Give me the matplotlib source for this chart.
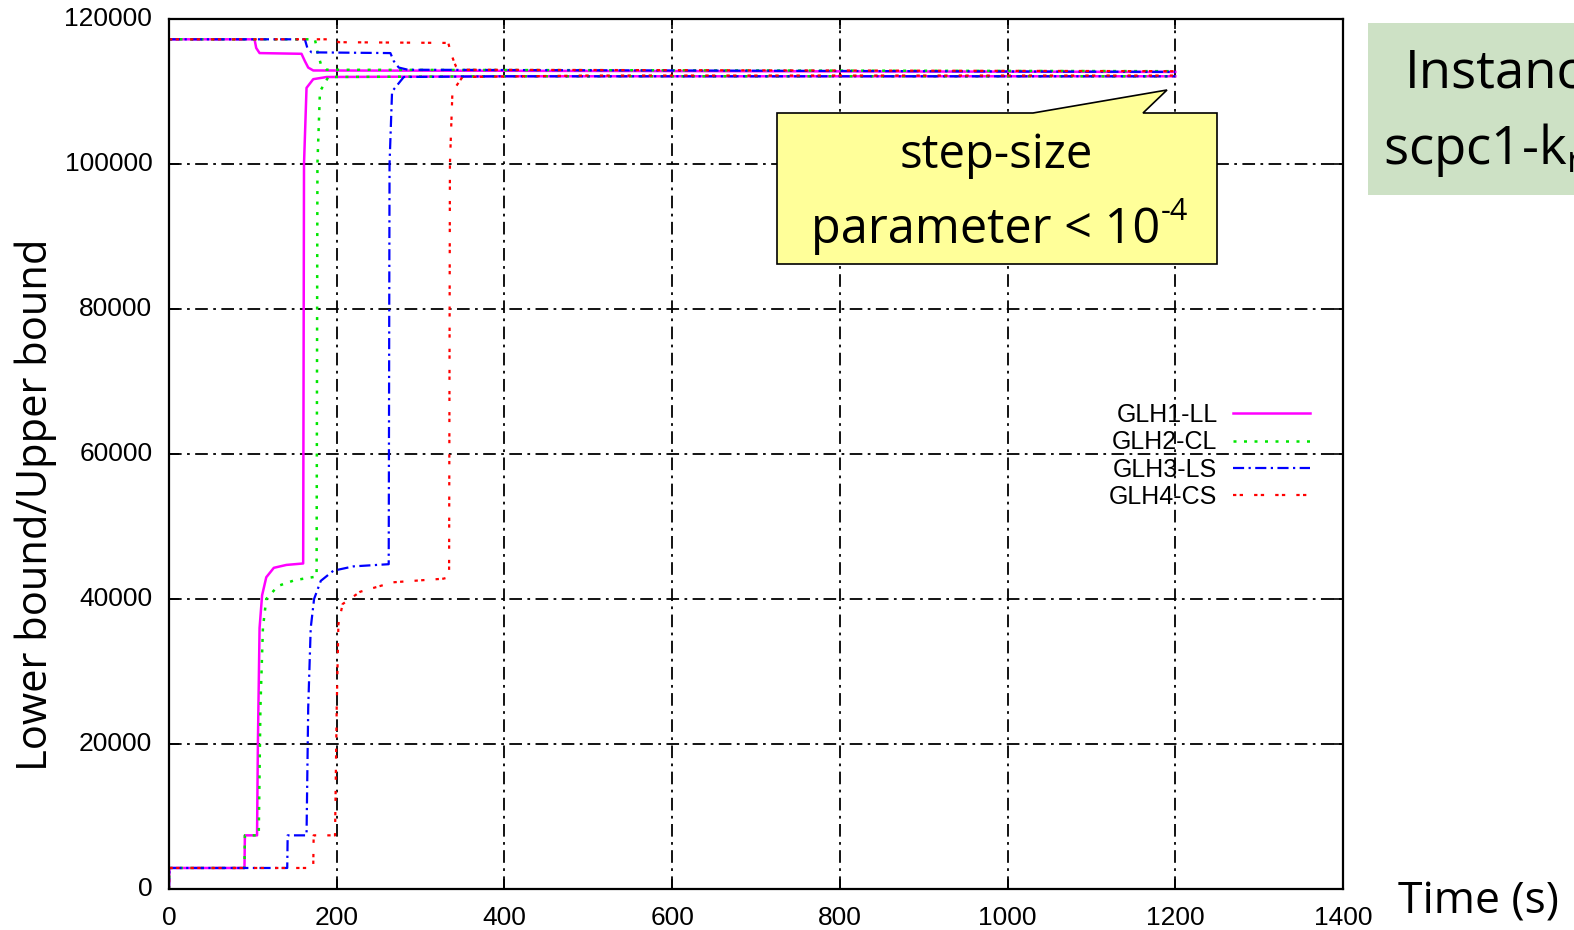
import matplotlib
matplotlib.use("Agg")
import matplotlib.pyplot as plt
import matplotlib.transforms as mtransforms
from matplotlib.patches import Polygon, Rectangle

W, H = 1574, 930

# time (s) / bound values
glh1_lb_t = [0, 0.5, 90, 90.5, 105, 106, 108, 111, 116, 125, 140, 160, 161, 164, 172, 188, 400, 1200]
glh1_lb_v = [0, 2900, 2900, 7400, 7400, 20000, 36000, 40500, 43000, 44300, 44700, 44900, 100000, 110500, 111700, 112000, 112100, 112100]
glh1_ub_t = [0, 102, 104, 108, 158, 162, 166, 172, 1200]
glh1_ub_v = [117200, 117200, 116000, 115300, 115200, 114200, 113300, 112900, 112700]

glh2_lb_t = [0, 0.5, 90, 90.5, 107, 109, 112, 116, 130, 150, 176, 177, 180, 190, 400, 1200]
glh2_lb_v = [0, 2900, 2900, 7400, 7400, 25000, 36000, 40000, 41800, 42600, 43100, 100000, 110000, 112000, 112100, 112100]
glh2_ub_t = [0, 174, 177, 181, 188, 1200]
glh2_ub_v = [117200, 117200, 115500, 113800, 113000, 112800]

glh3_lb_t = [0, 0.5, 141, 141.5, 164, 166, 169, 173, 181, 196, 220, 262, 263, 266, 280, 400, 1200]
glh3_lb_v = [0, 2900, 2900, 7400, 7400, 25000, 36000, 40000, 42500, 43900, 44500, 44800, 100000, 110000, 112000, 112100, 112100]
glh3_ub_t = [0, 162, 165, 170, 264, 268, 274, 285, 1200]
glh3_ub_v = [117200, 117200, 116000, 115400, 115300, 114200, 113300, 113000, 112700]

glh4_lb_t = [0, 0.5, 172, 172.5, 198, 200, 202, 207, 228, 267, 327, 334, 335, 338, 350, 500, 1200]
glh4_lb_v = [0, 2900, 2900, 7400, 7400, 25000, 36500, 39300, 41000, 42300, 42800, 43000, 100000, 110000, 112000, 112200, 112200]
glh4_ub_t = [0, 198, 202, 333, 337, 342, 350, 1200]
glh4_ub_v = [117200, 117200, 116800, 116700, 115000, 113500, 113000, 112800]

labels = ["GLH1-LL", "GLH2-CL", "GLH3-LS", "GLH4-CS"]
xticks = [0, 200, 400, 600, 800, 1000, 1200, 1400]
yticks = [0, 20000, 40000, 60000, 80000, 100000, 120000]

series = [
    (glh1_lb_t, glh1_lb_v, glh1_ub_t, glh1_ub_v, "#ff00ff", "-", 1.8),
    (glh2_lb_t, glh2_lb_v, glh2_ub_t, glh2_ub_v, "#00e600", (0, (1.2, 3)), 1.8),
    (glh3_lb_t, glh3_lb_v, glh3_ub_t, glh3_ub_v, "#0000ff", (0, (5, 2, 1, 2)), 1.6),
    (glh4_lb_t, glh4_lb_v, glh4_ub_t, glh4_ub_v, "#ff0000", (0, (1.5, 1.5, 1.5, 5)), 1.6),
]

hand = "Open Sans"

fig = plt.figure(figsize=(W / 100, H / 100), dpi=100)
ax = fig.add_axes([169 / W, 1 - 889 / H, (1343 - 169) / W, (889 - 19) / H])

for (lt, lv, ut, uv, col, ls, lw), lab in zip(series, labels):
    ax.plot(lt, lv, color=col, linestyle=ls, linewidth=lw, label=lab)
    ax.plot(ut, uv, color=col, linestyle=ls, linewidth=lw)

ax.set_xlim(0, 1400)
ax.set_ylim(0, 120000)
ax.set_xticks(xticks)
ax.set_yticks(yticks)
ax.grid(True, color="black", linestyle=(0, (7, 3, 1.5, 3)), linewidth=1.3)
ax.set_axisbelow(True)
ax.tick_params(direction="in", length=7, top=True, right=True, width=1.2)
ax.tick_params(axis="y", pad=12)
ax.tick_params(axis="x", pad=12)
shift_up = mtransforms.ScaledTranslation(0, 3 / 100, fig.dpi_scale_trans)
for t in ax.get_xticklabels() + ax.get_yticklabels():
    t.set_fontfamily("Liberation Sans")
    t.set_fontsize(19)
for t in ax.get_yticklabels():
    t.set_transform(t.get_transform() + shift_up)
for s in ax.spines.values():
    s.set_linewidth(1.6)

leg = ax.legend(loc="upper right", bbox_to_anchor=(1310 / W, 1 - 403 / H),
                bbox_transform=fig.transFigure, frameon=False, markerfirst=False,
                prop={"family": "Liberation Sans", "size": 18},
                handlelength=3.1, handletextpad=0.6, labelspacing=0.13,
                borderpad=0, borderaxespad=0)

fig.text(36 / W, 1 - 505 / H, "Lower bound/Upper bound", rotation=90,
         ha="center", va="center", fontsize=30, family=hand)
fig.text(1398 / W, 1 - 902 / H, "Time (s)", ha="left", va="center",
         fontsize=32, family=hand)

# callout
px = [(777, 113), (1033, 113), (1167, 90), (1143, 113), (1217, 113), (1217, 264), (777, 264)]
callout = Polygon([(x / W, 1 - y / H) for x, y in px], closed=True,
                  facecolor="#ffff99", edgecolor="black", linewidth=1.2,
                  transform=fig.transFigure, clip_on=False, zorder=10)
ax.add_patch(callout)
ax.text(996 / W, 1 - 155 / H, "step-size", transform=fig.transFigure,
        ha="center", va="center", fontsize=34, family=hand, zorder=11)
ax.text(1160 / W, 1 - 230 / H, "parameter < 10",
        transform=fig.transFigure, ha="right", va="center", fontsize=35,
        family=hand, zorder=11)
ax.text(1161 / W, 1 - 212 / H, "-4",
        transform=fig.transFigure, ha="left", va="center", fontsize=22,
        family=hand, zorder=11)

# instance box on the right (cut by the figure edge)
fig.patches.append(Rectangle((1368 / W, 1 - 195 / H), 300 / W, 172 / H,
                             facecolor="#cde1c5", edgecolor="none",
                             transform=fig.transFigure, figure=fig))
fig.text(1405 / W, 1 - 74 / H, "Instance", ha="left", va="center",
         fontsize=38, family=hand)
fig.text(1383 / W, 1 - 150 / H, r"scpc1-k$_{\mathregular{r}}$", ha="left",
         va="center", fontsize=38, family=hand)

fig.savefig("out.png", dpi=100)
